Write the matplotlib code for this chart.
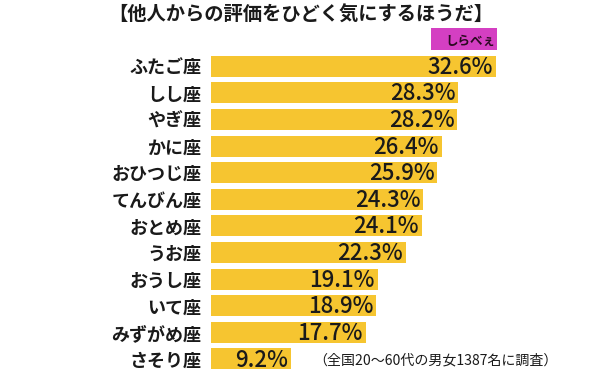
import matplotlib
matplotlib.use("Agg")
import matplotlib.pyplot as plt
from matplotlib.patches import Rectangle

plt.rcParams['font.family'] = ['Noto Sans CJK JP', 'DejaVu Sans']

categories = ["ふたご座", "しし座", "やぎ座", "かに座", "おひつじ座", "てんびん座",
              "おとめ座", "うお座", "おうし座", "いて座", "みずがめ座", "さそり座"]
values = [32.6, 28.3, 28.2, 26.4, 25.9, 24.3, 24.1, 22.3, 19.1, 18.9, 17.7, 9.2]
title = "【他人からの評価をひどく気にするほうだ】"
note = "（全国20～60代の男女1387名に調査）"

bar_color = "#F6C530"

fig = plt.figure(figsize=(6.0, 3.73), dpi=100)
ax = fig.add_axes([211/600, 0.002, (8.74*35)/600, 0.856])

y = list(range(len(categories)))
ax.barh(y, values, height=0.79, color=bar_color)
ax.set_xlim(0, 35)
ax.set_ylim(len(categories) - 0.5, -0.5)

for yi, v in zip(y, values):
    ax.text(v - 0.35, yi + 0.04, f"{v}%", ha='right', va='center',
            fontsize=16, fontweight='medium', color='#1a1a1a')

ax.set_yticks(y)
ax.set_yticklabels(categories, fontsize=13, fontweight='bold', color='#1a1a1a')
ax.tick_params(axis='y', length=0, pad=7)
ax.set_xticks([])
for s in ax.spines.values():
    s.set_visible(False)

fig.text(301/600, 1 - 15/373, title, ha='center', va='center',
         fontsize=13.9, fontweight='bold', color='#1a1a1a')

# logo box
fig.patches.append(Rectangle((431/600, 1 - 50/373), 66/600, 22/373,
                             transform=fig.transFigure,
                             facecolor='#D43FC2', edgecolor='none'))
fig.text(470/600, 1 - 41/373, "しらべぇ", ha='center', va='center',
         fontsize=9, fontweight='bold', color='#2a0a20')

fig.text(435/600, 1 - 360/373, note, ha='center', va='center',
         fontsize=10.1, color='#1a1a1a')

fig.savefig("out.png", dpi=100, facecolor='white')
